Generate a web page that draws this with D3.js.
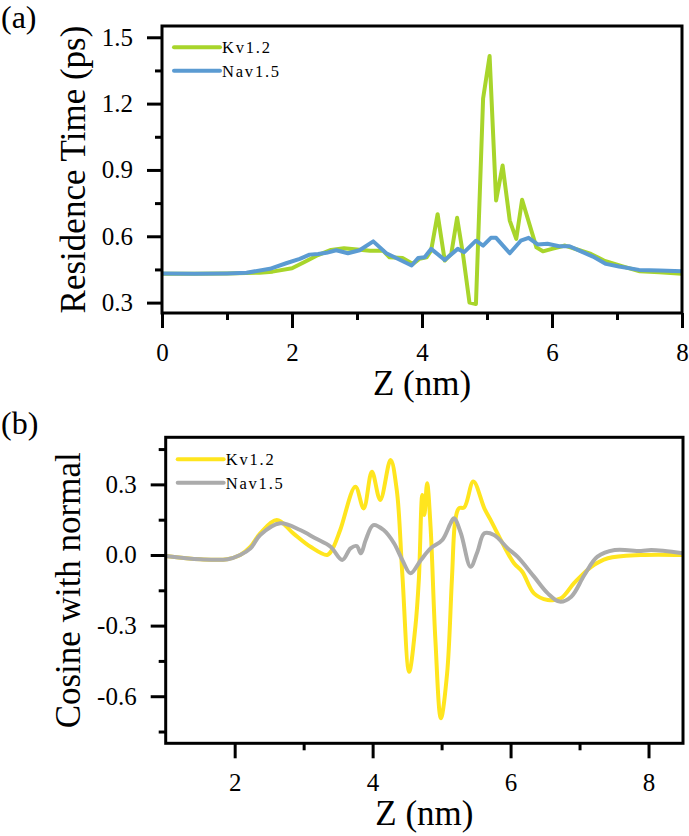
<!DOCTYPE html>
<html>
<head>
<meta charset="utf-8">
<script src="https://cdn.jsdelivr.net/npm/d3@7"></script>
<style>
body { margin: 0; background: #fff; }
svg { display: block; font-family: "Liberation Serif", "Times New Roman", serif; }
</style>
</head>
<body>
<script>
"use strict";
// (a) residence time vs Z
var kvResZ = [0, 0.5, 1.0, 1.5, 1.7, 2.0, 2.2, 2.4, 2.6, 2.8, 3.0, 3.2, 3.4, 3.5, 3.7, 3.86, 3.96, 4.07, 4.14, 4.24, 4.35, 4.45, 4.54, 4.63, 4.73, 4.83, 4.94, 5.04, 5.14, 5.24, 5.35, 5.45, 5.54, 5.76, 5.86, 6.0, 6.2, 6.4, 6.6, 6.8, 7.1, 7.35, 7.65, 8.0];
var kvRes = [0.43, 0.43, 0.432, 0.435, 0.44, 0.455, 0.485, 0.515, 0.538, 0.546, 0.54, 0.535, 0.535, 0.505, 0.502, 0.475, 0.498, 0.505, 0.535, 0.70, 0.49, 0.52, 0.684, 0.52, 0.30, 0.294, 1.223, 1.415, 0.762, 0.92, 0.671, 0.588, 0.765, 0.55, 0.532, 0.543, 0.558, 0.539, 0.52, 0.49, 0.463, 0.442, 0.437, 0.43];
var navResZ = [0, 0.5, 1.0, 1.3, 1.66, 1.91, 2.12, 2.27, 2.4, 2.53, 2.68, 2.86, 3.04, 3.25, 3.45, 3.65, 3.84, 3.94, 4.04, 4.14, 4.35, 4.55, 4.65, 4.83, 4.94, 5.06, 5.14, 5.35, 5.52, 5.64, 5.78, 5.93, 6.11, 6.27, 6.42, 6.63, 6.83, 7.03, 7.34, 7.65, 8.0];
var navRes = [0.432, 0.43, 0.432, 0.435, 0.453, 0.478, 0.498, 0.517, 0.52, 0.525, 0.537, 0.523, 0.537, 0.577, 0.523, 0.495, 0.468, 0.502, 0.505, 0.543, 0.493, 0.543, 0.528, 0.58, 0.558, 0.593, 0.593, 0.523, 0.58, 0.593, 0.563, 0.566, 0.555, 0.555, 0.535, 0.508, 0.475, 0.463, 0.448, 0.445, 0.442];

// (b) cosine with normal vs Z
var kvCosZ = [1.0, 1.5, 1.89, 2.08, 2.23, 2.37, 2.61, 2.85, 3.10, 3.34, 3.41, 3.53, 3.75, 3.87, 3.99, 4.11, 4.26, 4.35, 4.43, 4.53, 4.62, 4.67, 4.72, 4.75, 4.79, 4.84, 4.91, 4.99, 5.08, 5.15, 5.2, 5.25, 5.33, 5.46, 5.62, 5.71, 5.91, 6.05, 6.17, 6.34, 6.54, 6.73, 6.92, 7.17, 7.41, 7.89, 8.5];
var kvCos = [-0.004, -0.018, -0.018, 0.0, 0.035, 0.092, 0.149, 0.092, 0.035, 0.0, 0.021, 0.106, 0.29, 0.198, 0.354, 0.234, 0.404, 0.276, -0.078, -0.496, -0.305, -0.106, 0.255, 0.17, 0.305, 0.12, -0.361, -0.694, -0.503, -0.1, 0.15, 0.198, 0.203, 0.312, 0.198, 0.149, 0.035, -0.035, -0.071, -0.163, -0.191, -0.184, -0.12, -0.05, -0.014, 0.0, 0.0];
var navCosZ = [1.0, 1.5, 1.9, 2.08, 2.23, 2.37, 2.66, 2.95, 3.17, 3.39, 3.56, 3.68, 3.77, 3.83, 3.90, 4.01, 4.16, 4.31, 4.43, 4.55, 4.70, 4.84, 5.01, 5.13, 5.18, 5.28, 5.42, 5.52, 5.62, 5.76, 5.96, 6.10, 6.34, 6.54, 6.71, 6.88, 7.07, 7.26, 7.51, 7.89, 8.04, 8.5];
var navCos = [-0.004, -0.018, -0.018, 0.0, 0.028, 0.085, 0.135, 0.106, 0.071, 0.035, -0.021, 0.028, 0.038, 0.007, 0.064, 0.127, 0.106, 0.05, -0.021, -0.078, -0.021, 0.028, 0.064, 0.135, 0.156, 0.092, -0.05, 0.014, 0.092, 0.085, 0.028, -0.007, -0.092, -0.163, -0.198, -0.177, -0.085, -0.007, 0.021, 0.017, 0.021, 0.007];

var seriesNames = ['Kv1.2', 'Nav1.5'];
var topXTicks = [0, 2, 4, 6, 8];
var topXMinor = [1, 3, 5, 7];
var topYTicks = [0.3, 0.6, 0.9, 1.2, 1.5];
var topYMinor = [0.45, 0.75, 1.05, 1.35];
var botXTicks = [2, 4, 6, 8];
var botXMinor = [3, 5, 7];
var botYTicks = [-0.6, -0.3, 0.0, 0.3];
var botYMinor = [-0.75, -0.45, -0.15, 0.15, 0.45];

function zip(xs, ys) {
    return xs.map(function (x, i) { return [x, ys[i]]; });
}
function fmt(v) {
    var s = v.toFixed(1);
    return s === '-0.0' ? '0.0' : s;
}

var svg = d3.select('body').append('svg')
    .attr('width', 689)
    .attr('height', 836);

function drawPanel(cfg) {
    var x = d3.scaleLinear().domain(cfg.xDomain).range([cfg.left, cfg.right]);
    var y = d3.scaleLinear().domain(cfg.yDomain).range([cfg.bottom, cfg.top]);
    var g = svg.append('g');

    var clipId = 'clip-' + cfg.id;
    g.append('clipPath').attr('id', clipId).append('rect')
        .attr('x', cfg.left).attr('y', cfg.top)
        .attr('width', cfg.right - cfg.left).attr('height', cfg.bottom - cfg.top);

    var line = d3.line()
        .x(function (d) { return x(d[0]); })
        .y(function (d) { return y(d[1]); })
        .curve(cfg.curve);

    var lines = g.append('g').attr('clip-path', 'url(#' + clipId + ')');
    cfg.series.forEach(function (s) {
        lines.append('path')
            .datum(s.data)
            .attr('d', line)
            .attr('fill', 'none')
            .attr('stroke', s.color)
            .attr('stroke-width', 4)
            .attr('stroke-linejoin', 'round');
    });

    // frame
    g.append('rect')
        .attr('x', cfg.left).attr('y', cfg.top)
        .attr('width', cfg.right - cfg.left).attr('height', cfg.bottom - cfg.top)
        .attr('fill', 'none').attr('stroke', '#000').attr('stroke-width', 3);

    function styleAxis(sel) {
        sel.select('.domain').remove();
        sel.selectAll('.tick line').attr('stroke', '#000').attr('stroke-width', 3);
        sel.selectAll('.tick text').attr('fill', '#000').style('font-size', '25px')
            .style('font-family', '"Liberation Serif", "Times New Roman", serif');
    }

    g.append('g').attr('transform', 'translate(0,' + cfg.bottom + ')')
        .call(d3.axisBottom(x).tickValues(cfg.xTicks).tickFormat(d3.format('d'))
            .tickSize(15).tickSizeOuter(0).tickPadding(15))
        .call(styleAxis);
    g.append('g').attr('transform', 'translate(0,' + cfg.bottom + ')')
        .call(d3.axisBottom(x).tickValues(cfg.xMinor).tickFormat('').tickSize(7).tickSizeOuter(0))
        .call(styleAxis);
    g.append('g').attr('transform', 'translate(' + cfg.left + ',0)')
        .call(d3.axisLeft(y).tickValues(cfg.yTicks).tickFormat(fmt)
            .tickSize(15).tickSizeOuter(0).tickPadding(14))
        .call(styleAxis);
    g.append('g').attr('transform', 'translate(' + cfg.left + ',0)')
        .call(d3.axisLeft(y).tickValues(cfg.yMinor).tickFormat('').tickSize(7).tickSizeOuter(0))
        .call(styleAxis);

    // titles
    g.append('text')
        .attr('x', (cfg.left + cfg.right) / 2)
        .attr('y', cfg.bottom + 82)
        .attr('text-anchor', 'middle')
        .style('font-size', '35px')
        .text('Z (nm)');
    g.append('text')
        .attr('transform', 'translate(' + cfg.yTitleX + ',' + (cfg.top + cfg.bottom) / 2 + ') rotate(-90)')
        .attr('text-anchor', 'middle')
        .style('font-size', '35px')
        .text(cfg.yTitle);
    g.append('text')
        .attr('x', 1)
        .attr('y', cfg.tagY)
        .style('font-size', '32px')
        .text(cfg.tag);

    // legend
    var leg = g.append('g');
    cfg.series.forEach(function (s, i) {
        var ly = cfg.legendY + i * 23.4;
        leg.append('line')
            .attr('x1', cfg.left + 12).attr('x2', cfg.left + 58)
            .attr('y1', ly).attr('y2', ly)
            .attr('stroke', s.color).attr('stroke-width', 4)
            .attr('stroke-linecap', 'round');
        leg.append('text')
            .attr('x', cfg.left + 60)
            .attr('y', ly + 6)
            .style('font-size', '16.5px')
            .style('letter-spacing', '1.8px')
            .text(s.name);
    });
}

drawPanel({
    id: 'a',
    tag: '(a)',
    tagY: 28,
    left: 162, right: 682, top: 26, bottom: 313,
    xDomain: [0, 8], yDomain: [0.253, 1.551],
    xTicks: topXTicks, xMinor: topXMinor,
    yTicks: topYTicks, yMinor: topYMinor,
    yTitle: 'Residence Time (ps)',
    yTitleX: 85,
    legendY: 47.3,
    curve: d3.curveLinear,
    series: [
        { name: seriesNames[0], color: '#a8d52b', data: zip(kvResZ, kvRes) },
        { name: seriesNames[1], color: '#5b9bd2', data: zip(navResZ, navRes) }
    ]
});

drawPanel({
    id: 'b',
    tag: '(b)',
    tagY: 434,
    left: 165.7, right: 683, top: 437.3, bottom: 743.3,
    xDomain: [1, 8.5], yDomain: [-0.8, 0.5],
    xTicks: botXTicks, xMinor: botXMinor,
    yTicks: botYTicks, yMinor: botYMinor,
    yTitle: 'Cosine with normal',
    yTitleX: 80,
    legendY: 459.3,
    curve: d3.curveCatmullRom.alpha(0.5),
    series: [
        { name: seriesNames[0], color: '#ffe51e', data: zip(kvCosZ, kvCos) },
        { name: seriesNames[1], color: '#ababab', data: zip(navCosZ, navCos) }
    ]
});
</script>
</body>
</html>
